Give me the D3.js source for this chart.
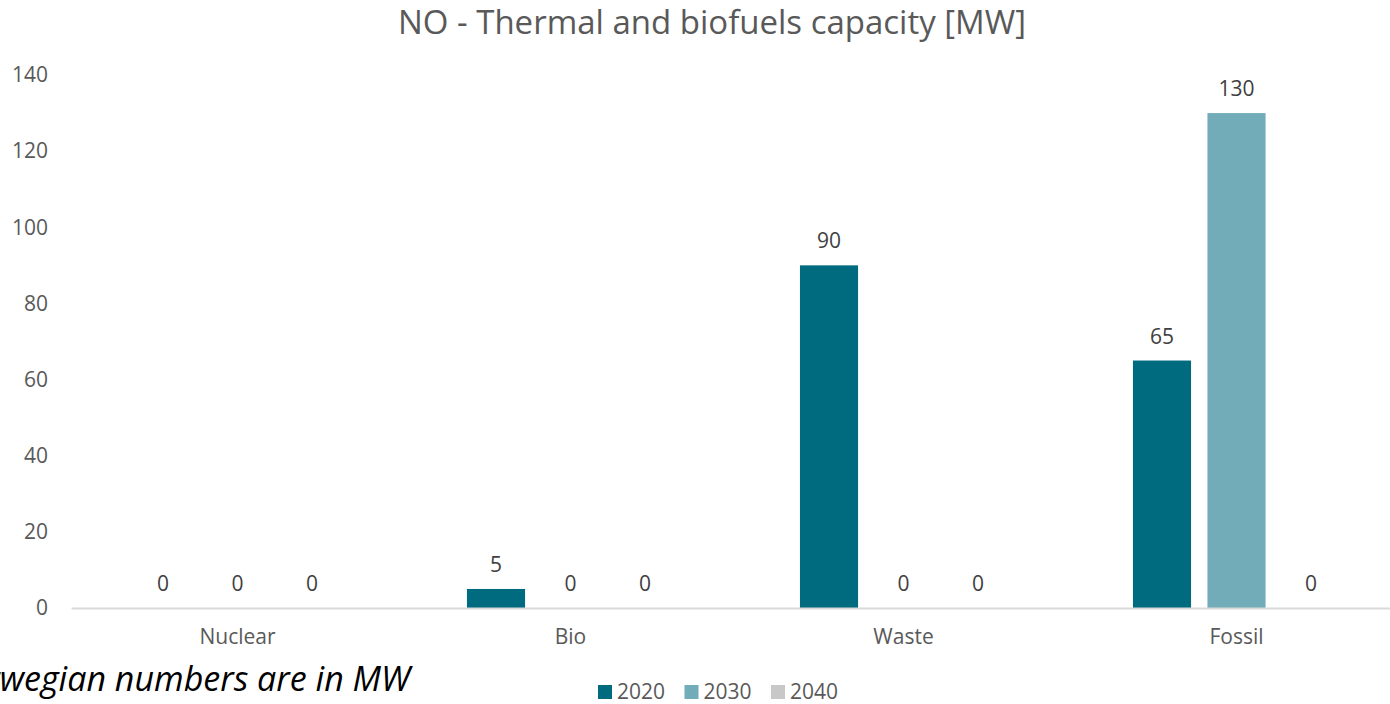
<!DOCTYPE html>
<meta charset="utf-8">
<style>
    body { margin: 0; background: #fff; }
    svg { display: block; font-family: "Open Sans", sans-serif; }
</style>
<svg width="1390" height="704"></svg>
<script src="https://d3js.org/d3.v7.min.js"></script>
<script>
    const categories = ['Nuclear', 'Bio', 'Waste', 'Fossil']
    const years = ['2020', '2030', '2040']
    const v2020 = [0, 5, 90, 65]
    const v2030 = [0, 0, 0, 130]
    const v2040 = [0, 0, 0, 0]
    const yTicks = [0, 20, 40, 60, 80, 100, 120, 140]
    const colors = ['#006a7f', '#72acb8', '#c8c8c8']

    const svg = d3.select('svg')
    const seriesVals = [v2020, v2030, v2040]
    const rows = categories.map((c, i) => ({
        cat: c,
        vals: years.map((y, j) => ({ year: y, value: seriesVals[j][i] }))
    }))

    const x0 = d3.scaleBand().domain(categories).range([71, 1403]).padding(0)
    const x1 = d3.scaleBand().domain(years).range([0, x0.bandwidth()])
        .paddingInner(0.22).paddingOuter(0.845)
    const y = d3.scaleLinear().domain([0, 140]).range([608, 75])

    // title
    svg.append('text')
        .attr('x', 712).attr('y', 34)
        .attr('text-anchor', 'middle')
        .attr('fill', '#595959')
        .style('font-size', '33px')
        .text('NO - Thermal and biofuels capacity [MW]')

    // y tick labels (no axis line, no grid)
    svg.append('g').selectAll('text')
        .data(yTicks).join('text')
        .attr('x', 48).attr('y', d => y(d))
        .attr('dy', '0.35em')
        .attr('text-anchor', 'end')
        .attr('fill', '#595959')
        .style('font-size', '21px')
        .text(d => d)

    const groups = svg.append('g').selectAll('g')
        .data(rows).join('g')
        .attr('transform', d => `translate(${x0(d.cat)},0)`)

    groups.selectAll('rect')
        .data(d => d.vals).join('rect')
        .attr('x', d => x1(d.year))
        .attr('width', x1.bandwidth())
        .attr('y', d => y(d.value))
        .attr('height', d => y(0) - y(d.value))
        .attr('fill', (d, i) => colors[i])

    groups.selectAll('text')
        .data(d => d.vals).join('text')
        .attr('x', d => x1(d.year) + x1.bandwidth() / 2)
        .attr('y', d => y(d.value) - 17)
        .attr('text-anchor', 'middle')
        .attr('fill', '#404040')
        .style('font-size', '21px')
        .text(d => d.value)

    // category axis
    const xAxis = svg.append('g')
        .attr('transform', 'translate(0,608)')
        .call(d3.axisBottom(x0).tickSize(0).tickPadding(21))
    xAxis.select('.domain').attr('stroke', '#d9d9d9').attr('stroke-width', 2)
    xAxis.selectAll('text')
        .attr('fill', '#595959')
        .style('font-size', '21px')
        .style('font-family', '"Open Sans", sans-serif')

    // legend
    const legend = svg.append('g').attr('transform', 'translate(598,699)')
    let lx = 0
    years.forEach((yr, i) => {
        const g = legend.append('g').attr('transform', `translate(${lx},0)`)
        g.append('rect').attr('x', 0).attr('y', -14).attr('width', 14).attr('height', 14)
            .attr('fill', colors[i])
        g.append('text').attr('x', 19).attr('y', 0)
            .attr('fill', '#595959').style('font-size', '21px').text(yr)
        lx += 86.5
    })

    // footnote, cut off at the left edge as in the source
    svg.append('text')
        .attr('x', 410).attr('y', 691)
        .attr('text-anchor', 'end')
        .attr('fill', '#000')
        .style('font-size', '34px')
        .style('font-style', 'italic')
        .text('Norwegian numbers are in MW')
</script>
